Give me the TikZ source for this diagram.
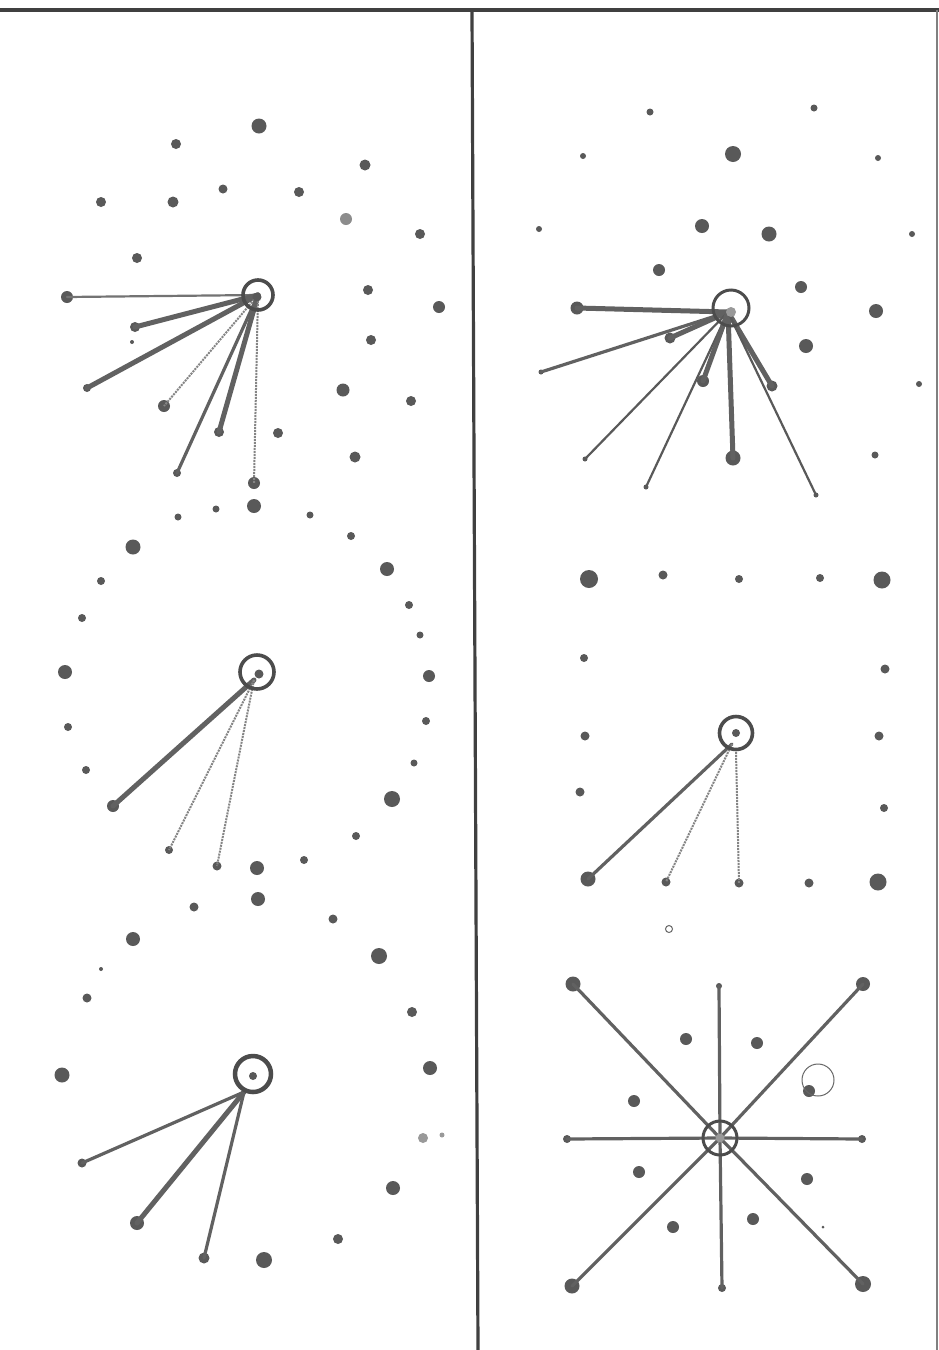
\documentclass[tikz,border=0pt]{standalone}
\begin{document}
\begin{tikzpicture}[x=1pt,y=-1pt,
  dot/.style={circle,fill=black!65,inner sep=0pt,draw=none},
  ring/.style={circle,draw=black!70,line width=3.6pt,inner sep=0pt,minimum size=32pt},
  thickspoke/.style={draw=black!62,line width=5pt,line cap=round},
  midspoke/.style={draw=black!62,line width=3.2pt,line cap=round},
  thinspoke/.style={draw=black!65,line width=2.2pt,line cap=round},
  faintspoke/.style={draw=black!48,line width=2pt,densely dotted},
  frame/.style={draw=black!75,line width=3.2pt}]
\fill[white] (0,0) rectangle (939,1350);
\useasboundingbox (0,0) rectangle (939,1350);
% frame
\coordinate (tl) at (0,10); \coordinate (tr) at (939,10);
\coordinate (dt) at (472,10); \coordinate (db) at (478,1350);
\coordinate (rt) at (937,10); \coordinate (rb) at (937,1350);
\draw[frame] (tl) -- (tr);
\draw[frame] (dt) -- (db);
\draw[draw=black!50,line width=1.4pt] (rt) -- (rb);

% ---------- plain dots ----------
\foreach \n/\x/\y/\d in {
 a1/259/126/15, a2/176/144/10, a3/365/165/11, a4/101/202/10, a5/173/202/11,
 a6/223/189/9, a7/299/192/10, a9/420/234/10, a10/137/258/10,
 a11/368/290/10, a12/439/307/12, a13/371/340/10, a14/343/390/13, a15/411/401/10,
 a16/278/433/10, a17/355/457/11, a18/254/506/14, a19/216/509/7, a20/178/517/7,
 a21/310/515/7, a22/132/342/4,
 b1/650/112/7, b2/814/108/7, b3/583/156/6, b4/733/154/16, b5/878/158/6,
 b6/539/229/6, b7/702/226/14, b8/769/234/15, b9/912/234/6, b10/659/270/12,
 b11/801/287/12, b12/876/311/14, b13/806/346/14, b14/919/384/6, b15/875/455/7,
 c1/351/536/8, c2/133/547/15, c3/387/569/14, c4/101/581/8, c5/409/605/8,
 c6/82/618/8, c7/420/635/7, c8/65/672/14, c9/429/676/12, c10/68/727/8,
 c11/426/721/8, c12/86/770/8, c13/414/763/7, c14/392/799/16, c15/356/836/8,
 c16/304/860/8, c17/257/868/14,
 d1/589/579/18, d2/663/575/9, d3/739/579/8, d4/820/578/8, d5/882/580/17,
 d6/584/658/8, d7/885/669/9, d8/585/736/9, d9/879/736/9, d10/580/792/9,
 d11/884/808/8, d12/809/883/9, d13/878/882/17,
 e1/194/907/9, e2/258/899/14, e3/333/919/9, e4/133/939/14, e5/379/956/16,
 e6/101/969/4, e7/87/998/9, e8/412/1012/10, e9/62/1075/15, e10/430/1068/14,
 e12/393/1188/14, e13/338/1239/10, e14/264/1260/16,
 f1/686/1039/12, f2/757/1043/12, f3/634/1101/12, f4/809/1091/12,
 f5/639/1172/12, f6/807/1179/12, f7/673/1227/12, f8/753/1219/12,
 f9/823/1227/3}
 {\node[dot,minimum size=\d pt] (\n) at (\x,\y) {};}
\node[dot,fill=black!45,minimum size=12pt] (a8) at (346,219) {};
\node[dot,fill=black!40,minimum size=10pt] (e11) at (423,1138) {};
\node[dot,fill=black!40,minimum size=5pt] (e11b) at (442,1135) {};
\node[circle,draw=black!60,line width=1pt,inner sep=0pt,minimum size=7pt] (f0) at (669,929) {};
\node[circle,draw=black!60,line width=1pt,inner sep=0pt,minimum size=32pt] (f4r) at (818,1080) {};

% ---------- panel 1 (top left) ----------
\coordinate (p1) at (258,295);
\foreach \n/\x/\y/\d in {p1e1/67/297/12, p1e2/135/327/10, p1e3/87/388/8,
  p1e4/164/406/12, p1e5/177/473/8, p1e6/219/432/10, p1e7/254/483/12}
  {\node[dot,minimum size=\d pt] (\n) at (\x,\y) {};}
\draw[thinspoke,draw=black!55] (p1) -- (p1e1.center);
\draw[thickspoke] (p1) -- (p1e2.center);
\draw[thickspoke] (p1) -- (p1e3.center);
\draw[faintspoke] (p1) -- (p1e4.center);
\draw[midspoke] (p1) -- (p1e5.center);
\draw[thickspoke] (p1) -- (p1e6.center);
\draw[faintspoke] (p1) -- (p1e7.center);
\node[ring,minimum size=30pt] (r1) at (258,295) {};
\node[dot,minimum size=9pt] (r1c) at (257,297) {};

% ---------- panel 2 (top right) ----------
\coordinate (p2) at (728,312);
\foreach \n/\x/\y/\d in {p2e1/577/308/13, p2e2/670/338/11, p2e3/541/372/5,
  p2e4/585/459/5, p2e5/646/487/5, p2e6/703/381/12, p2e7/733/458/15,
  p2e8/772/386/11, p2e9/816/495/5}
  {\node[dot,minimum size=\d pt] (\n) at (\x,\y) {};}
\draw[thickspoke] (p2) -- (p2e1.center);
\draw[thickspoke] (p2) -- (p2e2.center);
\draw[midspoke] (p2) -- (p2e3.center);
\draw[thinspoke] (p2) -- (p2e4.center);
\draw[thinspoke] (p2) -- (p2e5.center);
\draw[thickspoke] (p2) -- (p2e6.center);
\draw[thickspoke] (p2) -- (p2e7.center);
\draw[thickspoke] (p2) -- (p2e8.center);
\draw[thinspoke] (p2) -- (p2e9.center);
\node[ring,minimum size=36pt,line width=3pt] (r2) at (731,308) {};
\node[dot,fill=black!40,minimum size=10pt] (r2c) at (731,312) {};

% ---------- panel 3 (middle left) ----------
\coordinate (p3) at (254,680);
\foreach \n/\x/\y/\d in {p3e1/113/806/12, p3e2/169/850/8, p3e3/217/866/9}
  {\node[dot,minimum size=\d pt] (\n) at (\x,\y) {};}
\draw[thickspoke] (p3) -- (p3e1.center);
\draw[faintspoke] (p3) -- (p3e2.center);
\draw[faintspoke] (p3) -- (p3e3.center);
\node[ring,minimum size=34pt] (r3) at (257,672) {};
\node[dot,minimum size=9pt] (r3c) at (259,674) {};

% ---------- panel 4 (middle right) ----------
\coordinate (p4) at (732,744);
\foreach \n/\x/\y/\d in {p4e1/588/879/15, p4e2/666/882/9, p4e3/739/883/9}
  {\node[dot,minimum size=\d pt] (\n) at (\x,\y) {};}
\draw[midspoke] (p4) -- (p4e1.center);
\draw[faintspoke] (p4) -- (p4e2.center);
\draw[faintspoke] (736,752) -- (p4e3.center);
\node[ring,minimum size=33pt] (r4) at (736,733) {};
\node[dot,minimum size=8pt] (r4c) at (736,733) {};

% ---------- panel 5 (bottom left) ----------
\coordinate (p5) at (244,1092);
\foreach \n/\x/\y/\d in {p5e1/82/1163/9, p5e2/137/1223/14, p5e3/204/1258/11}
  {\node[dot,minimum size=\d pt] (\n) at (\x,\y) {};}
\draw[midspoke] (p5) -- (p5e1.center);
\draw[thickspoke] (p5) -- (p5e2.center);
\draw[midspoke] (p5) -- (p5e3.center);
\node[ring,minimum size=36pt,line width=4.5pt] (r5) at (253,1074) {};
\node[dot,minimum size=8pt] (r5c) at (253,1076) {};

% ---------- panel 6 (bottom right) ----------
\coordinate (p6) at (720,1138);
\foreach \n/\x/\y/\d in {p6e1/573/984/15, p6e2/863/984/14, p6e3/719/986/6,
  p6e4/567/1139/8, p6e5/862/1139/8, p6e6/572/1286/15, p6e7/863/1284/16,
  p6e8/722/1288/8}
  {\node[dot,minimum size=\d pt] (\n) at (\x,\y) {};}
\foreach \e in {p6e1,p6e2,p6e3,p6e4,p6e5,p6e6,p6e7,p6e8}
  {\draw[midspoke] (p6) -- (\e.center);}
\node[ring,minimum size=34pt,line width=3pt] (r6) at (720,1138) {};
\node[dot,fill=black!40,minimum size=9pt] (r6c) at (720,1138) {};
\end{tikzpicture}
\end{document}
